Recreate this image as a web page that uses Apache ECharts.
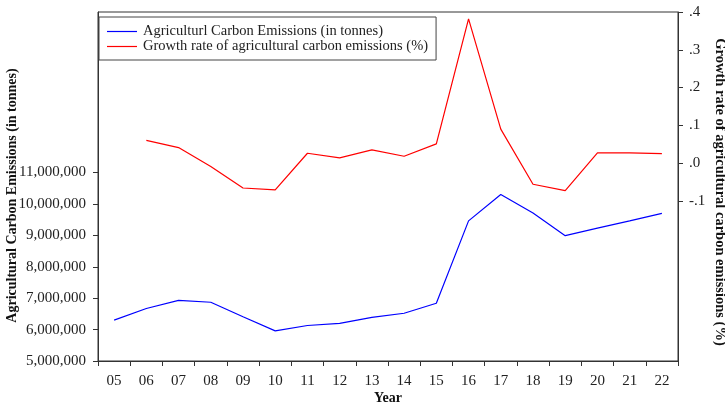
<!DOCTYPE html>
<html>
<head>
<meta charset="utf-8">
<script src="https://cdn.jsdelivr.net/npm/echarts@6/dist/echarts.min.js"></script>
<style>
  html, body { margin: 0; padding: 0; background: #fff; }
  #chart { width: 725px; height: 404px; }
</style>
</head>
<body>
<div id="chart"></div>
<script>
// Years (two-digit labels) on the category axis
const years = ['05','06','07','08','09','10','11','12','13','14','15','16','17','18','19','20','21','22'];

// Agricultural carbon emissions, tonnes
const emissions = [6300000, 6670000, 6930000, 6870000, 6410000, 5960000, 6130000, 6200000, 6390000,
                   6520000, 6840000, 9460000, 10300000, 9710000, 8990000, 9230000, 9460000, 9700000];

// Growth rate of emissions (first year has no prior value)
const growth = [null, 0.060, 0.041, -0.009, -0.066, -0.071, 0.026, 0.014, 0.035,
                0.018, 0.051, 0.382, 0.090, -0.056, -0.073, 0.027, 0.027, 0.025];

// Tick values shown on each value axis
const leftTicks = [5000000, 6000000, 7000000, 8000000, 9000000, 10000000, 11000000];
const rightTicks = [-0.1, 0.0, 0.1, 0.2, 0.3, 0.4];

const serif = '"Liberation Serif", "Times New Roman", serif';
const axisColor = '#333';
const lineIcon = 'path://M0,0 H30 V1.2 H0 Z';

const chart = echarts.init(document.getElementById('chart'), null, { renderer: 'canvas' });

chart.setOption({
  animation: false,
  textStyle: { fontFamily: serif },
  grid: {
    left: 98, right: 47, top: 12, bottom: 43,
    outerBoundsMode: 'none',
    containLabel: false,
    show: true, borderColor: axisColor, borderWidth: 1, backgroundColor: 'transparent'
  },
  legend: {
    orient: 'vertical',
    left: 99, top: 17,
    padding: [7, 8, 6, 8],
    itemWidth: 30, itemHeight: 2, itemGap: 0,
    icon: lineIcon,
    borderColor: '#444', borderWidth: 1,
    textStyle: { fontFamily: serif, fontSize: 14.5, color: '#222', lineHeight: 15, padding: [0, 0, 0, 1] },
    data: ['Agriculturl Carbon Emissions (in tonnes)', 'Growth rate of agricultural carbon emissions (%)']
  },
  xAxis: {
    type: 'category',
    data: years,
    boundaryGap: true,
    name: 'Year',
    nameLocation: 'middle',
    nameGap: 30,
    nameMoveOverlap: false,
    nameTextStyle: { fontFamily: serif, fontWeight: 'bold', fontSize: 14, color: '#111' },
    axisLine: { onZero: false, lineStyle: { color: axisColor, width: 1 } },
    axisTick: { show: true, length: 5, lineStyle: { color: axisColor } },
    axisLabel: { fontFamily: serif, fontSize: 15, color: '#222', margin: 13, interval: 0 },
    splitLine: { show: false }
  },
  yAxis: [
    {
      type: 'value',
      position: 'left',
      min: 5000000,
      max: 16110000,
      name: 'Agricultural Carbon Emissions (in tonnes)',
      nameLocation: 'middle',
      nameGap: 79,
      nameMoveOverlap: false,
      nameTextStyle: { fontFamily: serif, fontWeight: 'bold', fontSize: 14, color: '#111', padding: [0, 18, 0, 0] },
      axisLine: { show: true, onZero: false, lineStyle: { color: axisColor, width: 1 } },
      axisTick: { show: true, length: 5, customValues: leftTicks, lineStyle: { color: axisColor } },
      axisLabel: {
        fontFamily: serif, fontSize: 15, color: '#222', margin: 12,
        customValues: leftTicks,
        formatter: v => Math.round(v).toLocaleString('en-US')
      },
      splitLine: { show: false }
    },
    {
      type: 'value',
      position: 'right',
      min: -0.524,
      max: 0.4,
      name: 'Growth rate of agricultural carbon emissions (%)',
      nameLocation: 'middle',
      nameGap: 34,
      nameRotate: -90,
      nameMoveOverlap: false,
      nameTextStyle: { fontFamily: serif, fontWeight: 'bold', fontSize: 14.5, color: '#111', padding: [0, 0, 0, 11] },
      axisLine: { show: true, onZero: false, lineStyle: { color: axisColor, width: 1 } },
      axisTick: { show: true, length: 5, customValues: rightTicks, lineStyle: { color: axisColor } },
      axisLabel: {
        fontFamily: serif, fontSize: 15, color: '#222', margin: 11,
        customValues: rightTicks,
        formatter: v => v.toFixed(1).replace('0.', '.')
      },
      splitLine: { show: false }
    }
  ],
  series: [
    {
      name: 'Agriculturl Carbon Emissions (in tonnes)',
      type: 'line',
      yAxisIndex: 0,
      data: emissions,
      symbol: 'none',
      lineStyle: { color: '#0000ff', width: 1.2 },
      itemStyle: { color: '#0000ff' }
    },
    {
      name: 'Growth rate of agricultural carbon emissions (%)',
      type: 'line',
      yAxisIndex: 1,
      data: growth,
      symbol: 'none',
      connectNulls: false,
      lineStyle: { color: '#ff0000', width: 1.2 },
      itemStyle: { color: '#ff0000' }
    }
  ]
});
</script>
</body>
</html>
